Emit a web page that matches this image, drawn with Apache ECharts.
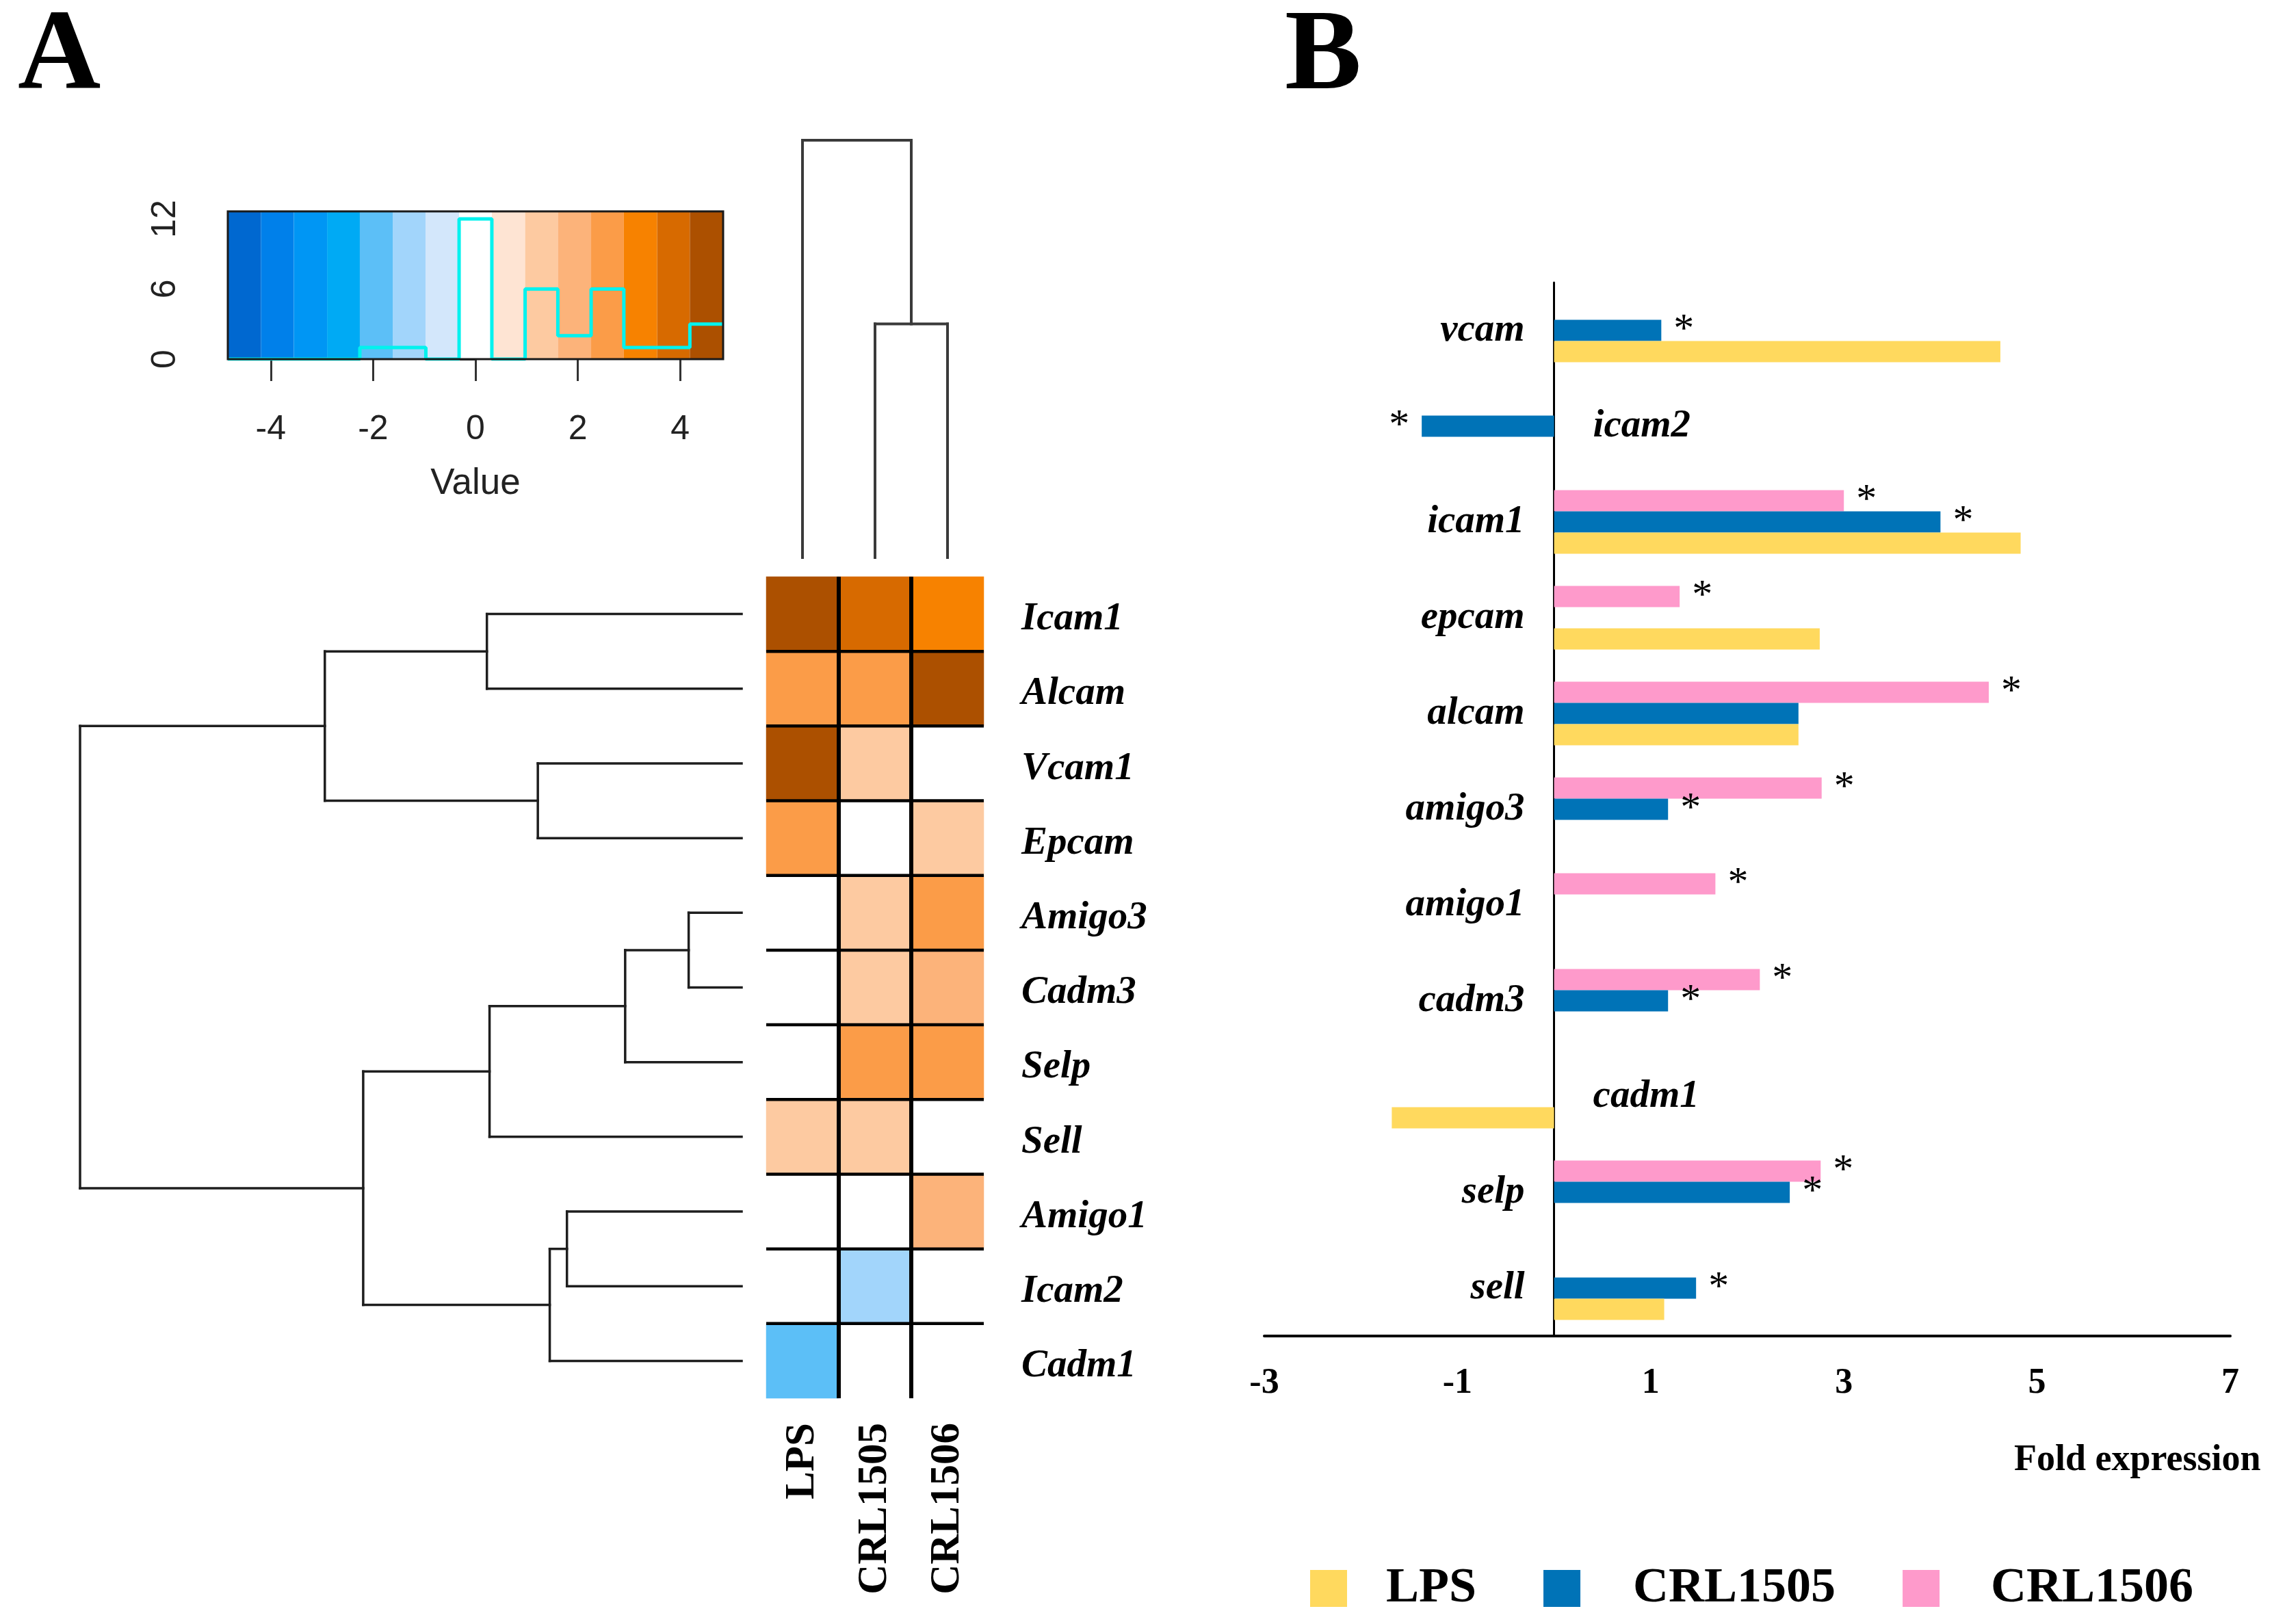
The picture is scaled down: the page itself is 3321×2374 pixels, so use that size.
<!DOCTYPE html>
<html><head><meta charset="utf-8">
<script src="https://cdn.jsdelivr.net/npm/echarts@6/dist/echarts.min.js"></script>
<style>html,body{margin:0;padding:0;background:#fff;} #c{width:3321px;height:2374px;}</style>
</head><body><div id="c"></div>
<script>
const SERIF = "'Liberation Serif', 'Times New Roman', serif";
const SANS = "'Liberation Sans', Arial, sans-serif";

// ---------- Panel A: clustered heatmap ----------
const genes = ['Icam1','Alcam','Vcam1','Epcam','Amigo3','Cadm3','Selp','Sell','Amigo1','Icam2','Cadm1'];
const samples = ['LPS','CRL1505','CRL1506'];
const heatLPS     = [4.5, 2.6, 4.5, 2.6, 0.0, 0.0, 0.0, 1.3, 0.0, 0.0, -1.9];
const heatCRL1505 = [3.9, 2.6, 1.3, 0.0, 1.3, 1.3, 2.6, 1.3, 0.0, -1.3, 0.0];
const heatCRL1506 = [3.2, 4.5, 0.0, 1.3, 2.6, 1.9, 2.6, 0.0, 1.9, 0.0, 0.0];
const keyBreaks = [-4.84,-4.19,-3.55,-2.90,-2.26,-1.61,-0.97,-0.32,0.32,0.97,1.61,2.26,2.90,3.55,4.19,4.84];
const keyColors = ['#0068d0','#0080ea','#0096f4','#00aaf4','#5cbff7','#a2d5fb','#d3e7fb','#ffffff',
                   '#fee4d3','#fdcaa1','#fcb37a','#fb9c48','#f78200','#d76a00','#ac5000'];
const keyXTicks = [-4,-2,0,2,4];
const keyYTicks = [0,2,4,6,8,10,12];
const keyYLabels = [0,6,12];
const keyYMax = 12.64;
// row dendrogram merges: [childA, childB, height]; 'mN' = N-th merge
const rowMerges = [
  ['Amigo3','Cadm3',0.80],
  ['m0','Selp',1.76],
  ['Amigo1','Icam2',2.64],
  ['m2','Cadm1',2.90],
  ['Vcam1','Epcam',3.08],
  ['m1','Sell',3.81],
  ['Icam1','Alcam',3.85],
  ['m5','m3',5.72],
  ['m6','m4',6.30],
  ['m8','m7',10.0]
];
const colMerges = [
  ['CRL1505','CRL1506',5.6],
  ['LPS','m0',10.0]
];

// ---------- Panel B: fold expression bars ----------
const fcCategories = ['vcam','icam2','icam1','epcam','alcam','amigo3','amigo1','cadm3','cadm1','selp','sell'];
const fcLPS     = [4.62, null, 4.83, 2.75, 2.53, null, null, null, -1.68, null, 1.14];
const fcCRL1505 = [1.11, -1.37, 4.00, null, 2.53, 1.18, null, 1.18, null, 2.44, 1.47];
const fcCRL1506 = [null, null, 3.00, 1.30, 4.50, 2.77, 1.67, 2.13, null, 2.76, null];
const sigLPS     = [0,0,0,0,0,0,0,0,0,0,0];
const sigCRL1505 = [1,1,1,0,0,1,0,1,0,1,1];
const sigCRL1506 = [0,0,1,1,1,1,1,1,0,1,0];
const fcMin = -3, fcMax = 7;
const fcTickLabels = [-3,-1,1,3,5,7];
const rightSideLabels = ['icam2','cadm1'];
const seriesNames = ['LPS','CRL1505','CRL1506'];
const seriesColors = ['#ffd95e','#0073b7','#fe9acb'];

// ---------- layout ----------
const gB = {left: 1848, top: 413, width: 1412, height: 1540};
const zeroX = gB.left + gB.width * (0 - fcMin) / (fcMax - fcMin);

// ---------- derived ----------
const heatCols = [heatLPS, heatCRL1505, heatCRL1506];
const heatData = [];
heatCols.forEach((col, c) => col.forEach((v, r) => heatData.push([c, r, v])));
const counts = keyColors.map(() => 0);
heatData.forEach(d => {
  for (let i = 0; i < counts.length; i++) {
    if (d[2] >= keyBreaks[i] && d[2] < keyBreaks[i + 1]) { counts[i]++; break; }
  }
});
const histLine = keyBreaks.map((b, i) => [b, counts[Math.min(i, counts.length - 1)]]);

function dendroSegments(merges, leaves, leafAxisIsX) {
  const nodes = {};
  leaves.forEach((n, i) => nodes[n] = {pos: i, h: 0});
  const segs = [];
  const add = (p1, h1, p2, h2) => segs.push(leafAxisIsX ? [p1, h1, p2, h2] : [h1, p1, h2, p2]);
  merges.forEach((m, i) => {
    const a = nodes[m[0]], b = nodes[m[1]], h = m[2];
    add(a.pos, a.h, a.pos, h);
    add(b.pos, b.h, b.pos, h);
    add(a.pos, h, b.pos, h);
    nodes['m' + i] = {pos: (a.pos + b.pos) / 2, h: h};
  });
  return segs;
}
function segRender(color, width) {
  return function (params, api) {
    const p1 = api.coord([api.value(0), api.value(1)]);
    const p2 = api.coord([api.value(2), api.value(3)]);
    return {type: 'line', shape: {x1: p1[0], y1: p1[1], x2: p2[0], y2: p2[1]},
            style: {stroke: color, lineWidth: width, lineCap: 'square'}};
  };
}
const sepData = [];
for (let k = 1; k < samples.length; k++) sepData.push([0, k]);
for (let k = 1; k < genes.length; k++) sepData.push([1, k]);

function barData(vals, sig) {
  return vals.map((v, i) => v == null ? '-' : {
    value: v,
    label: {show: !!sig[i], position: v < 0 ? 'left' : 'right', formatter: '*'}
  });
}
const barLabel = {fontFamily: SERIF, fontSize: 60, color: '#000', distance: 18};
const fcByName = {LPS: [fcLPS, sigLPS], CRL1505: [fcCRL1505, sigCRL1505], CRL1506: [fcCRL1506, sigCRL1506]};
// drawn top-to-bottom inside each category: CRL1506, CRL1505, LPS
const barSeries = ['CRL1506','CRL1505','LPS'].map(name => ({
  name: name, type: 'bar', xAxisIndex: 4, yAxisIndex: 4,
  data: barData(fcByName[name][0], fcByName[name][1]),
  barWidth: 31, barGap: '0%',
  itemStyle: {color: seriesColors[seriesNames.indexOf(name)]},
  label: barLabel
}));

const noBounds = {outerBoundsMode: 'none', containLabel: false};
const chart = echarts.init(document.getElementById('c'), null, {renderer: 'canvas'});
const option = {
  animation: false,
  backgroundColor: '#ffffff',
  title: [
    {text: 'A', left: 26, top: 2, padding: 0, textStyle: {fontFamily: SERIF, fontWeight: 'bold', fontSize: 168, color: '#000'}},
    {text: 'B', left: 1878, top: 2, padding: 0, textStyle: {fontFamily: SERIF, fontWeight: 'bold', fontSize: 168, color: '#000'}},
    {text: 'Fold expression', left: 2944, top: 2108, padding: 0, textStyle: {fontFamily: SERIF, fontWeight: 'bold', fontSize: 54, color: '#000'}}
  ],
  legend: {
    data: [
      {name: 'LPS', textStyle: {padding: [0, 0, 0, 52]}},
      {name: 'CRL1505', textStyle: {padding: [0, 0, 0, 72]}},
      {name: 'CRL1506', textStyle: {padding: [0, 0, 0, 70]}}
    ],
    left: 1910, top: 2281, icon: 'rect', itemWidth: 54, itemHeight: 54, itemGap: 98,
    textStyle: {fontFamily: SERIF, fontWeight: 'bold', fontSize: 72, color: '#000'}
  },
  visualMap: {
    type: 'piecewise', show: false, seriesIndex: 1, dimension: 2,
    pieces: keyColors.map((c, i) => ({gte: keyBreaks[i], lt: keyBreaks[i + 1], color: c}))
  },
  grid: [
    Object.assign({left: 333, top: 309, width: 724, height: 216, show: true, z: 5, backgroundColor: 'transparent', borderColor: '#1a1a1a', borderWidth: 3}, noBounds),
    Object.assign({left: 1120, top: 843, width: 318, height: 1201}, noBounds),
    Object.assign({left: 117, top: 843, width: 967, height: 1201}, noBounds),
    Object.assign({left: 1120, top: 205, width: 318, height: 610}, noBounds),
    Object.assign({}, gB, noBounds)
  ],
  xAxis: [
    {gridIndex: 0, type: 'value', min: keyBreaks[0], max: keyBreaks[keyBreaks.length - 1],
     name: 'Value', nameLocation: 'middle', nameGap: 156,
     nameTextStyle: {fontFamily: SANS, fontSize: 53, color: '#222'},
     axisLine: {show: false}, splitLine: {show: false},
     axisTick: {show: true, length: 32, customValues: keyXTicks, lineStyle: {color: '#333', width: 3}},
     axisLabel: {customValues: keyXTicks, fontFamily: SANS, fontSize: 50, color: '#222', margin: 78}},
    {gridIndex: 1, type: 'category', data: samples, position: 'bottom',
     axisLine: {show: false}, axisTick: {show: false}, splitLine: {show: false},
     axisLabel: {rotate: 90, margin: 36, fontFamily: SERIF, fontWeight: 'bold', fontSize: 61, color: '#000'}},
    {gridIndex: 2, type: 'value', min: 0, max: 10, inverse: true, show: false},
    {gridIndex: 3, type: 'value', min: -0.5, max: samples.length - 0.5, show: false},
    {gridIndex: 4, type: 'value', min: fcMin, max: fcMax, interval: 1,
     axisLine: {show: true, onZero: false, lineStyle: {color: '#000', width: 4}},
     axisTick: {show: false}, splitLine: {show: false},
     axisLabel: {margin: 44, fontFamily: SERIF, fontWeight: 'bold', fontSize: 52, color: '#000',
                 formatter: v => (Math.abs(v - Math.round(v)) < 1e-6 && fcTickLabels.indexOf(Math.round(v)) >= 0) ? String(Math.round(v)) : ''}}
  ],
  yAxis: [
    {gridIndex: 0, type: 'value', min: 0, max: keyYMax,
     axisLine: {show: false}, splitLine: {show: false},
     axisTick: {show: true, length: 30, customValues: keyYTicks, lineStyle: {color: '#333', width: 3}},
     axisLabel: {customValues: keyYLabels, rotate: 90, fontFamily: SANS, fontSize: 50, color: '#222', margin: 66}},
    {gridIndex: 1, type: 'category', data: genes, inverse: true, position: 'right',
     axisLine: {show: false}, axisTick: {show: false}, splitLine: {show: false},
     axisLabel: {margin: 55, formatter: v => '{g|' + v + '}',
                 rich: {g: {fontFamily: SERIF, fontWeight: 'bold', fontStyle: 'italic', fontSize: 57, color: '#000', padding: [16, 0, 0, 0]}}}},
    {gridIndex: 2, type: 'value', min: -0.5, max: genes.length - 0.5, inverse: true, show: false},
    {gridIndex: 3, type: 'value', min: 0, max: 10, show: false},
    {gridIndex: 4, type: 'category', data: fcCategories, inverse: true, position: 'left',
     axisLine: {show: true, onZero: true, lineStyle: {color: '#000', width: 3}},
     axisTick: {show: false}, splitLine: {show: false},
     axisLabel: {margin: gB.left - zeroX + 43, fontFamily: SERIF, fontWeight: 'bold', fontStyle: 'italic', fontSize: 57, color: '#000',
                 formatter: v => rightSideLabels.indexOf(v) >= 0 ? '' : v}},
    {gridIndex: 4, type: 'category', data: fcCategories, inverse: true, position: 'left',
     axisLine: {show: false, onZero: false},
     axisTick: {show: false}, splitLine: {show: false},
     axisLabel: {margin: gB.left - zeroX - 57, align: 'left', fontFamily: SERIF, fontWeight: 'bold', fontStyle: 'italic', fontSize: 57, color: '#000',
                 formatter: v => rightSideLabels.indexOf(v) >= 0 ? v : ''}}
  ],
  series: [
    {type: 'line', xAxisIndex: 0, yAxisIndex: 0, data: histLine, step: 'end', showSymbol: false, symbol: 'none',
     lineStyle: {color: '#00f2ee', width: 5}, z: 3,
     markArea: {silent: true, label: {show: false},
       data: keyColors.map((c, i) => [{xAxis: keyBreaks[i], itemStyle: {color: c, opacity: 1, borderWidth: 0}}, {xAxis: keyBreaks[i + 1]}])}},
    {type: 'heatmap', xAxisIndex: 1, yAxisIndex: 1, data: heatData, itemStyle: {borderWidth: 0}},
    {type: 'custom', xAxisIndex: 1, yAxisIndex: 1, data: sepData, z: 4, silent: true,
     renderItem: function (params, api) {
       const cs = params.coordSys;
       const t = api.value(0), k = api.value(1);
       if (t === 0) {
         const x = cs.x + cs.width * k / samples.length;
         return {type: 'line', shape: {x1: x, y1: cs.y, x2: x, y2: cs.y + cs.height}, style: {stroke: '#000', lineWidth: 6}};
       }
       const y = cs.y + cs.height * k / genes.length;
       return {type: 'line', shape: {x1: cs.x, y1: y, x2: cs.x + cs.width, y2: y}, style: {stroke: '#000', lineWidth: 4.5}};
     }},
    {type: 'custom', xAxisIndex: 2, yAxisIndex: 2, data: dendroSegments(rowMerges, genes, false),
     renderItem: segRender('#1e1e1e', 3.5), silent: true},
    {type: 'custom', xAxisIndex: 3, yAxisIndex: 3, data: dendroSegments(colMerges, samples, true),
     renderItem: segRender('#3a3a3a', 4), silent: true}
  ].concat(barSeries)
};
chart.setOption(option);
</script></body></html>
